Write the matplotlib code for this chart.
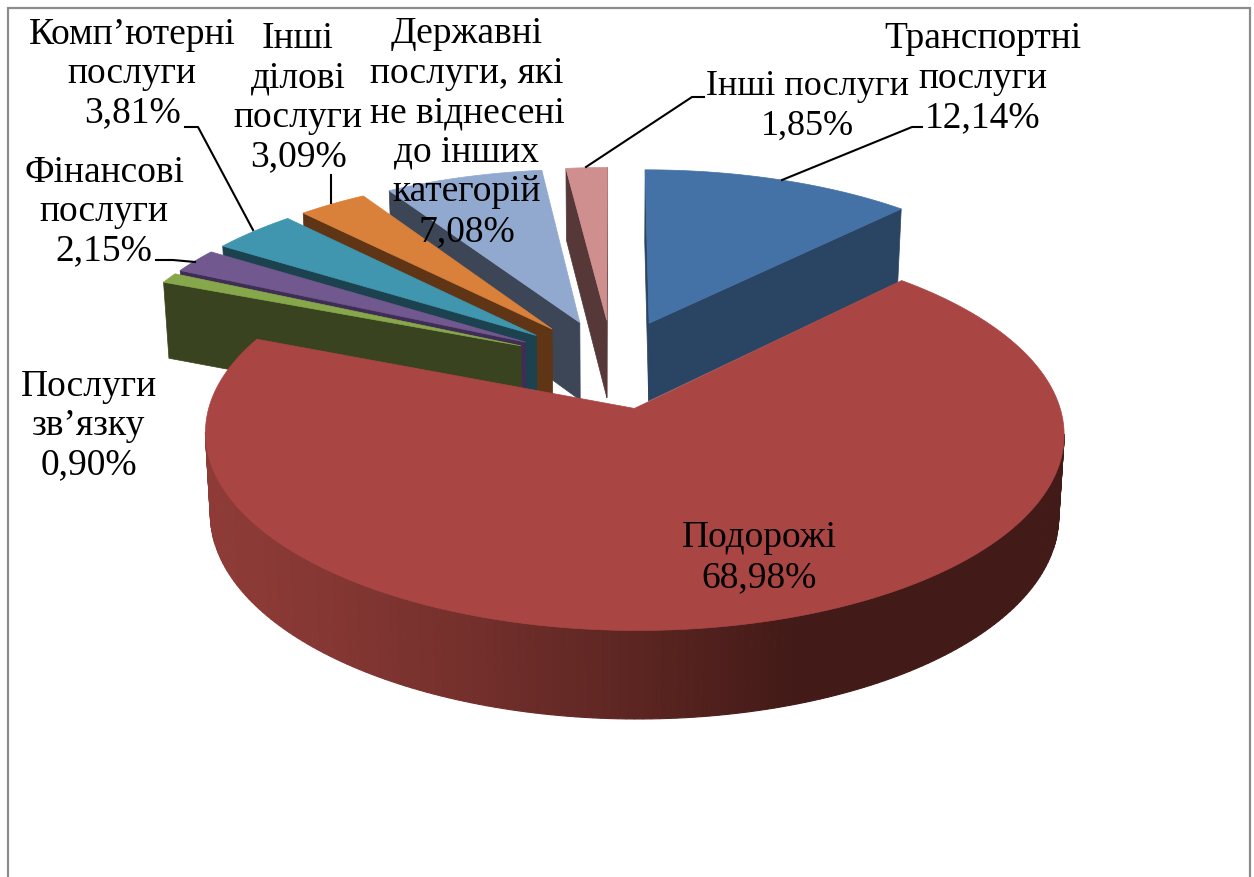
import numpy as np
import matplotlib
matplotlib.use('Agg')
import matplotlib.pyplot as plt
from matplotlib.colors import to_rgb
from matplotlib.patches import Polygon, Rectangle

# Clockwise from 12 o'clock
names = ['Транспортні\nпослуги', 'Подорожі', 'Послуги\nзв’язку', 'Фінансові\nпослуги',
         'Комп’ютерні\nпослуги', 'Інші\nділові\nпослуги',
         'Державні\nпослуги, які\nне віднесені\nдо інших\nкатегорій', 'Інші послуги']
shares = [12.14, 68.98, 0.90, 2.15, 3.81, 3.09, 7.08, 1.85]
top_colors = ['#4472A6', '#A94543', '#86A84B', '#71588F', '#3F96AE', '#D9803A', '#92A9CF', '#CF8F8E']
side_colors = ['#2A4564', '#A94543', '#3A431F', '#3F2D55', '#1B424E', '#5F3516', '#3C4657', '#563838']
label_pos = [(983, 88), (759, 567), (89, 435), (104, 221), (132, 83), (298, 107), (467, 142), (807, 115)]
leaders = [[(782, 180), (912, 127), (922, 127)],
           [(586, 167), (692, 97), (704, 97)],
           [(253, 230), (198, 127), (185, 127)],
           [(331, 203), (331, 175)],
           [(195, 262), (173, 260), (156, 260)]]
draw_order = [7, 6, 5, 4, 3, 2, 0, 1]

# projection of the unit pie to pixels
cx, cy = 612.5, 363.5
ax_x, ax_y = 413, 182
persp = 0.125
explode = 0.245


def project(x, y, low=False):
    s = 1 / (1 + persp * y)
    px = ax_x * x * s
    py = cy - ax_y * y * s
    if low:
        return cx + px * 0.988, py + 27 + 52 * s
    return cx + px, py


def visible(nx, ny, x, y):
    return nx * (0 - x) + ny * (-1 / persp - y) > 0


fig = plt.figure(figsize=(12.54, 8.77), dpi=100)
ax = fig.add_axes([0, 0, 1, 1])
ax.set_xlim(0, 1254)
ax.set_ylim(877, 0)
ax.axis('off')
ax.add_patch(Rectangle((8, 8), 1242, 900, fc='white', ec='#8c8c8c', lw=1.6))

edges = np.cumsum([0] + shares) / sum(shares) * 2 * np.pi
red_left, red_right = np.array(to_rgb('#8E3B37')), np.array(to_rgb('#421A17'))

for i in draw_order:
    t0, t1 = edges[i], edges[i + 1]
    mid = (t0 + t1) / 2
    ox, oy = explode * np.sin(mid), explode * np.cos(mid)
    ts = np.linspace(t0, t1, max(int(np.degrees(t1 - t0)) + 2, 3))
    xs, ys = ox + np.sin(ts), oy + np.cos(ts)

    # cut faces
    for t, sign in ((t0, -1), (t1, 1)):
        nx, ny = sign * np.cos(t), -sign * np.sin(t)
        if i != 1 and visible(nx, ny, ox, oy):
            rx, ry = ox + np.sin(t), oy + np.cos(t)
            quad = [project(ox, oy), project(rx, ry), project(rx, ry, True), project(ox, oy, True)]
            ax.add_patch(Polygon(quad, fc=side_colors[i], ec=side_colors[i], lw=0.5))

    # outer rim, shaded along the width for the large slice
    for k in range(len(ts) - 1):
        tm = (ts[k] + ts[k + 1]) / 2
        if not visible(np.sin(tm), np.cos(tm), ox + np.sin(tm), oy + np.cos(tm)):
            continue
        quad = [project(xs[k], ys[k]), project(xs[k + 1], ys[k + 1]),
                project(xs[k + 1], ys[k + 1], True), project(xs[k], ys[k], True)]
        c = side_colors[i]
        if i == 1:
            f = np.clip((quad[0][0] - 210) / (800 - 210), 0, 1) ** 1.3
            c = red_left + (red_right - red_left) * f
        ax.add_patch(Polygon(quad, fc=c, ec=c, lw=0.8))

    # top face
    top = [project(ox, oy)] + [project(a, b) for a, b in zip(xs, ys)]
    ax.add_patch(Polygon(top, fc=top_colors[i], ec=top_colors[i], lw=0.5))

for pts in leaders:
    ax.plot([p[0] for p in pts], [p[1] for p in pts], color='black', lw=1.5)

for name, share, (lx, ly) in zip(names, shares, label_pos):
    pct = f'{share:.2f}'.replace('.', ',') + '%'
    lines = name.split('\n') + [pct]
    size = 26 if name == 'Інші послуги' else 27
    for n, line in enumerate(lines):
        ax.text(lx, ly + (n - (len(lines) - 1) / 2) * 39.5, line, ha='center', va='baseline',
                family='Liberation Serif', fontsize=size, color='black')

fig.savefig('out.png', dpi=100)
